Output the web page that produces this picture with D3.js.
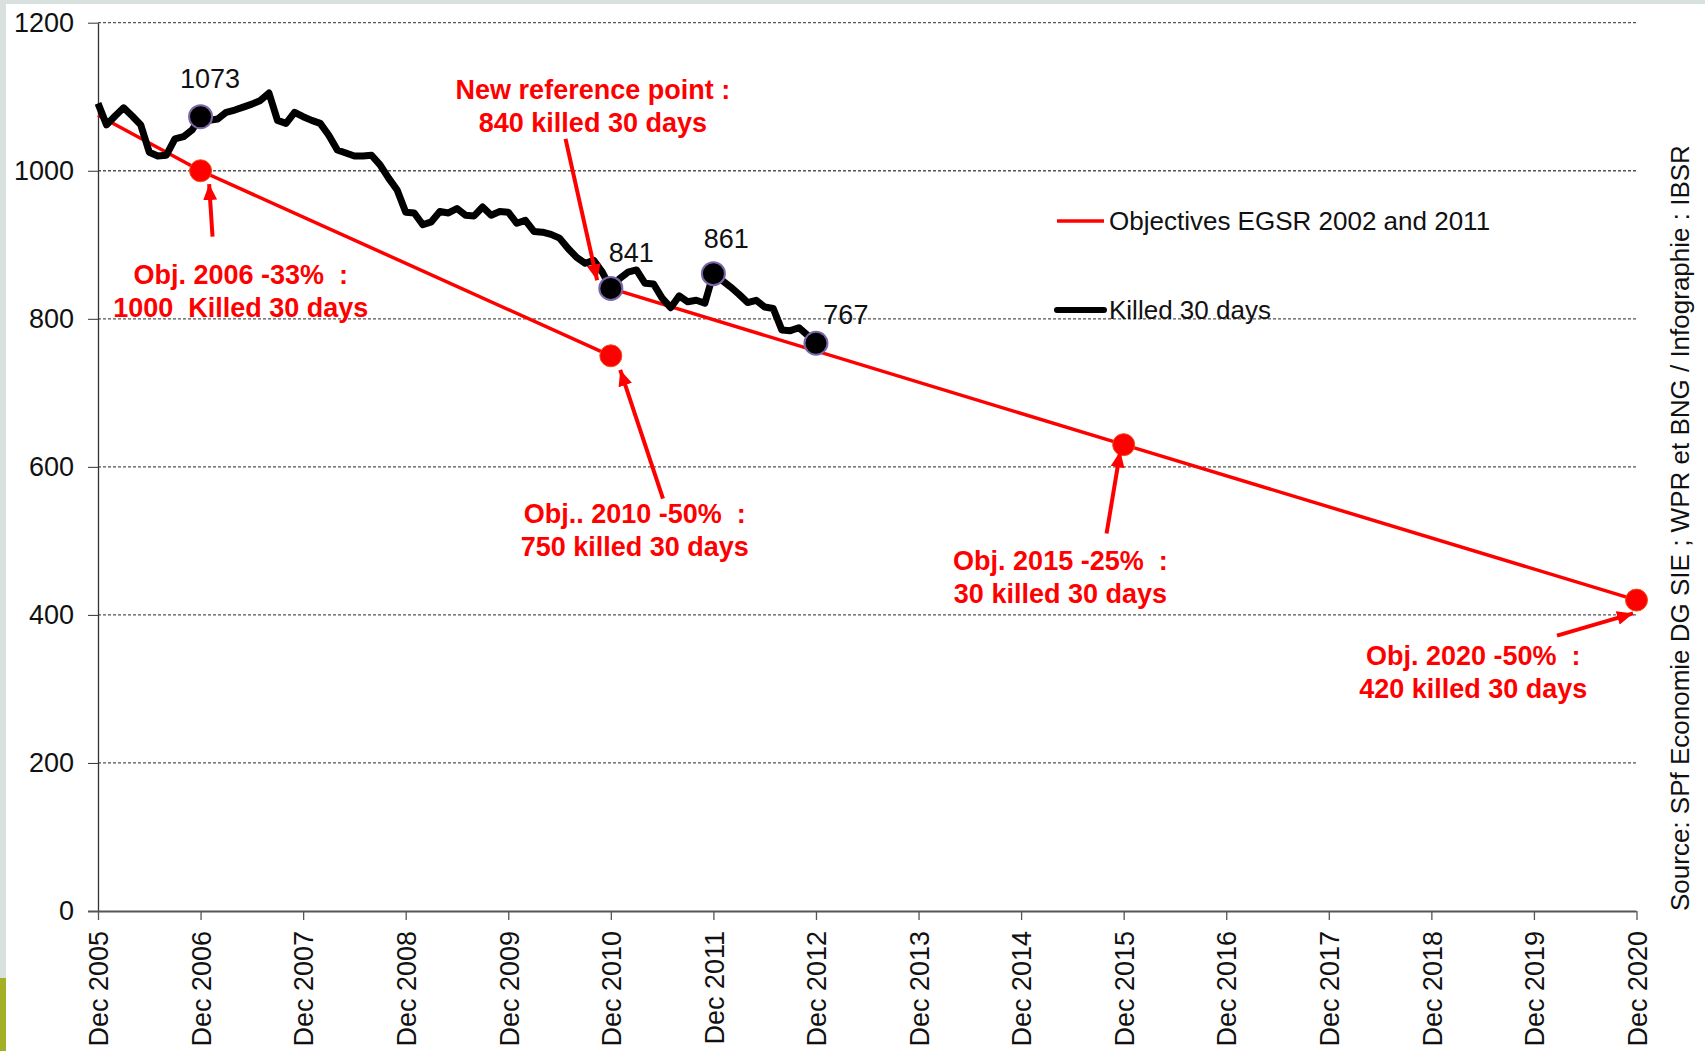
<!DOCTYPE html>
<html lang="en">
<head>
  <meta charset="UTF-8">
  <title>Killed 30 days and objectives</title>
  <script src="https://d3js.org/d3.v7.min.js"></script>
  <style>
    body { margin: 0; background: #fff; }
    svg { display: block; font-family: "Liberation Sans", Arial, sans-serif; }
    .note { fill: #ff0000; font-weight: bold; font-size: 27px; white-space: pre; }
  </style>
</head>
<body>
<div class="main"></div>
<script>
  let width = 1705;
  let height = 1051;

  // killed 30 days, monthly, Dec 2005 -> Dec 2012
  let killed = [1091, 1062, 1074, 1085, 1074, 1062, 1025, 1020, 1021, 1043, 1046, 1055,
                1073, 1068, 1070, 1079, 1082, 1086, 1090, 1095, 1105, 1068, 1064, 1079,
                1073, 1068, 1064, 1048, 1028, 1024, 1020, 1020, 1021, 1008, 990, 974,
                944, 943, 927, 931, 945, 943, 949, 940, 939, 951, 940, 945,
                944, 929, 933, 918, 917, 914, 909, 895, 883, 875, 879, 863,
                841, 854, 863, 866, 848, 847, 828, 815, 831, 823, 825, 821,
                861, 852, 843, 833, 822, 825, 816, 814, 785, 784, 788, 778,
                767];

  // objectives (month index from Dec 2005, value)
  let objOldMonths = [0, 12, 60];
  let objOldValues = [1075, 1000, 750];
  let objNewMonths = [60, 120, 180];
  let objNewValues = [841, 630, 420];

  let goalMonths = [12, 60, 120, 180];
  let goalValues = [1000, 750, 630, 420];
  let labelledMonths = [12, 60, 72, 84];

  let yTicks = [0, 200, 400, 600, 800, 1000, 1200];
  let xTickLabels = ["Dec 2005", "Dec 2006", "Dec 2007", "Dec 2008", "Dec 2009", "Dec 2010",
                     "Dec 2011", "Dec 2012", "Dec 2013", "Dec 2014", "Dec 2015", "Dec 2016",
                     "Dec 2017", "Dec 2018", "Dec 2019", "Dec 2020"];

  let noteTexts = [
    ["New reference point :", "840 killed 30 days"],
    ["Obj. 2006 -33%  :", "1000  Killed 30 days"],
    ["Obj.. 2010 -50%  :", "750 killed 30 days"],
    ["Obj. 2015 -25%  :", "30 killed 30 days"],
    ["Obj. 2020 -50%  :", "420 killed 30 days"]
  ];
  // where each note sits, in chart units (month, value)
  let notePlaces = [[57.9, 1110], [16.7, 860], [62.8, 537], [112.6, 474], [160.9, 345]];
  // arrows: from [month, value] to [month, value]
  let arrowFrom = [[54.7, 1043], [13.4, 911], [66.1, 557], [118, 510], [170.7, 372]];
  let arrowTo = [[58.4, 852], [13.0, 982], [61.1, 731], [119.6, 621], [179.6, 402]];

  let x = d3.scaleLinear().domain([0, 180]).range([98, 1636.5]);
  let y = d3.scaleLinear().domain([0, 1200]).range([911, 22.7]);

  let svg = d3.select(".main")
          .append("svg")
          .attr("width", width)
          .attr("height", height);

  // page edges
  svg.append("rect").attr("x", 0).attr("y", 0).attr("width", width).attr("height", 4).attr("fill", "#d9e1df");
  svg.append("rect").attr("x", 0).attr("y", 0).attr("width", 6).attr("height", height).attr("fill", "#d9e1df");
  svg.append("rect").attr("x", 0).attr("y", 978).attr("width", 6).attr("height", height - 978).attr("fill", "#a3b026");

  // grid
  svg.append("g")
          .selectAll("line")
          .data(yTicks.filter(d => d > 0))
          .join("line")
          .attr("x1", x(0)).attr("x2", x(180))
          .attr("y1", d => y(d)).attr("y2", d => y(d))
          .attr("stroke", "#555")
          .attr("stroke-width", 1.3)
          .attr("stroke-dasharray", "3,2");

  // y axis
  let yAxis = d3.axisLeft(y).tickValues(yTicks).tickFormat(d3.format("d"))
          .tickSize(10).tickSizeOuter(0).tickPadding(14);
  let gy = svg.append("g").attr("transform", `translate(${x(0)},0)`).call(yAxis);
  gy.select(".domain").attr("stroke", "#333").attr("stroke-width", 1.3);
  gy.selectAll(".tick line").attr("stroke", "#333");
  gy.selectAll("text").attr("font-size", 27).attr("fill", "#111")
          .attr("font-family", "Liberation Sans, Arial, sans-serif");

  // x axis
  let xAxis = d3.axisBottom(x)
          .tickValues(d3.range(0, 181, 12))
          .tickFormat((d, i) => xTickLabels[i])
          .tickSize(9).tickSizeOuter(0);
  let gx = svg.append("g").attr("transform", `translate(0,${y(0)})`).call(xAxis);
  gx.select(".domain").attr("stroke", "#555").attr("stroke-width", 2)
          .attr("d", `M${x(0) - 10},0.5H${x(180)}`);
  gx.selectAll(".tick line").attr("stroke", "#555").attr("stroke-width", 1.3);
  gx.selectAll("text")
          .attr("transform", "rotate(-90)")
          .attr("text-anchor", "end")
          .attr("x", -20).attr("y", 0).attr("dy", "0.36em")
          .attr("font-size", 27).attr("fill", "#111")
          .attr("font-family", "Liberation Sans, Arial, sans-serif");

  // objective lines
  let line = d3.line().x(d => x(d[0])).y(d => y(d[1]));
  let objOld = objOldMonths.map((m, i) => [m, objOldValues[i]]);
  let objNew = objNewMonths.map((m, i) => [m, objNewValues[i]]);
  svg.append("path").attr("d", line(objOld)).attr("fill", "none").attr("stroke", "#ff0000").attr("stroke-width", 3.5);
  svg.append("path").attr("d", line(objNew)).attr("fill", "none").attr("stroke", "#ff0000").attr("stroke-width", 3.5);

  // killed line
  svg.append("path")
          .attr("d", line(killed.map((v, i) => [i, v])))
          .attr("fill", "none")
          .attr("stroke", "#000")
          .attr("stroke-width", 7)
          .attr("stroke-linejoin", "round");

  // goal dots
  svg.append("g").selectAll("circle")
          .data(goalMonths)
          .join("circle")
          .attr("cx", d => x(d))
          .attr("cy", (d, i) => y(goalValues[i]))
          .attr("r", 11)
          .attr("fill", "#ff0000")
          .attr("stroke", "#f0501a")
          .attr("stroke-width", 1);

  // labelled killed points
  svg.append("g").selectAll("circle")
          .data(labelledMonths)
          .join("circle")
          .attr("cx", d => x(d))
          .attr("cy", d => y(killed[d]))
          .attr("r", 11.5)
          .attr("fill", "#000")
          .attr("stroke", "#7b67a8")
          .attr("stroke-width", 2);

  // value labels above the points
  let labelShift = [[1.1, 52], [2.4, 48], [1.5, 48], [3.5, 39]];
  svg.append("g").selectAll("text")
          .data(labelledMonths)
          .join("text")
          .attr("x", (d, i) => x(d + labelShift[i][0]))
          .attr("y", (d, i) => y(killed[d] + labelShift[i][1]))
          .attr("dy", "0.35em")
          .attr("text-anchor", "middle")
          .attr("font-size", 27)
          .attr("fill", "#111")
          .text(d => killed[d]);

  // arrows
  svg.append("defs").append("marker")
          .attr("id", "head")
          .attr("viewBox", "0 0 16 14")
          .attr("refX", 16).attr("refY", 7)
          .attr("markerWidth", 16).attr("markerHeight", 14)
          .attr("markerUnits", "userSpaceOnUse")
          .attr("orient", "auto")
          .append("path").attr("d", "M0,0L16,7L0,14Z").attr("fill", "#ff0000");

  svg.append("g").selectAll("line")
          .data(arrowFrom)
          .join("line")
          .attr("x1", d => x(d[0])).attr("y1", d => y(d[1]))
          .attr("x2", (d, i) => x(arrowTo[i][0])).attr("y2", (d, i) => y(arrowTo[i][1]))
          .attr("stroke", "#ff0000")
          .attr("stroke-width", 4)
          .attr("marker-end", "url(#head)");

  // notes
  let notes = svg.append("g").selectAll("text")
          .data(noteTexts)
          .join("text")
          .attr("class", "note")
          .attr("text-anchor", "middle")
          .attr("x", (d, i) => x(notePlaces[i][0]))
          .attr("y", (d, i) => y(notePlaces[i][1]));
  notes.selectAll("tspan")
          .data(d => d)
          .join("tspan")
          .attr("x", function () { return this.parentNode.getAttribute("x"); })
          .attr("dy", (d, i) => i === 0 ? "0.35em" : "1.22em")
          .text(d => d);

  // legend
  let legendNames = ["Objectives EGSR 2002 and 2011", "Killed 30 days"];
  let legendColors = ["#ff0000", "#000"];
  let legend = svg.append("g").selectAll("g")
          .data(legendNames)
          .join("g")
          .attr("transform", (d, i) => `translate(1057,${221 + i * 89})`);
  legend.append("line")
          .attr("x1", 0).attr("x2", 47)
          .attr("stroke", (d, i) => legendColors[i])
          .attr("stroke-width", (d, i) => i === 0 ? 3.5 : 6)
          .attr("stroke-linecap", (d, i) => i === 0 ? "butt" : "round");
  legend.append("text")
          .attr("x", 52).attr("dy", "0.35em")
          .attr("font-size", 26)
          .attr("fill", "#111")
          .text(d => d);

  // source
  svg.append("text")
          .attr("transform", "translate(1689,911) rotate(-90)")
          .attr("font-size", 26)
          .attr("fill", "#111")
          .text("Source: SPf Economie DG SIE ; WPR et BNG / Infographie : IBSR");
</script>
</body>
</html>
